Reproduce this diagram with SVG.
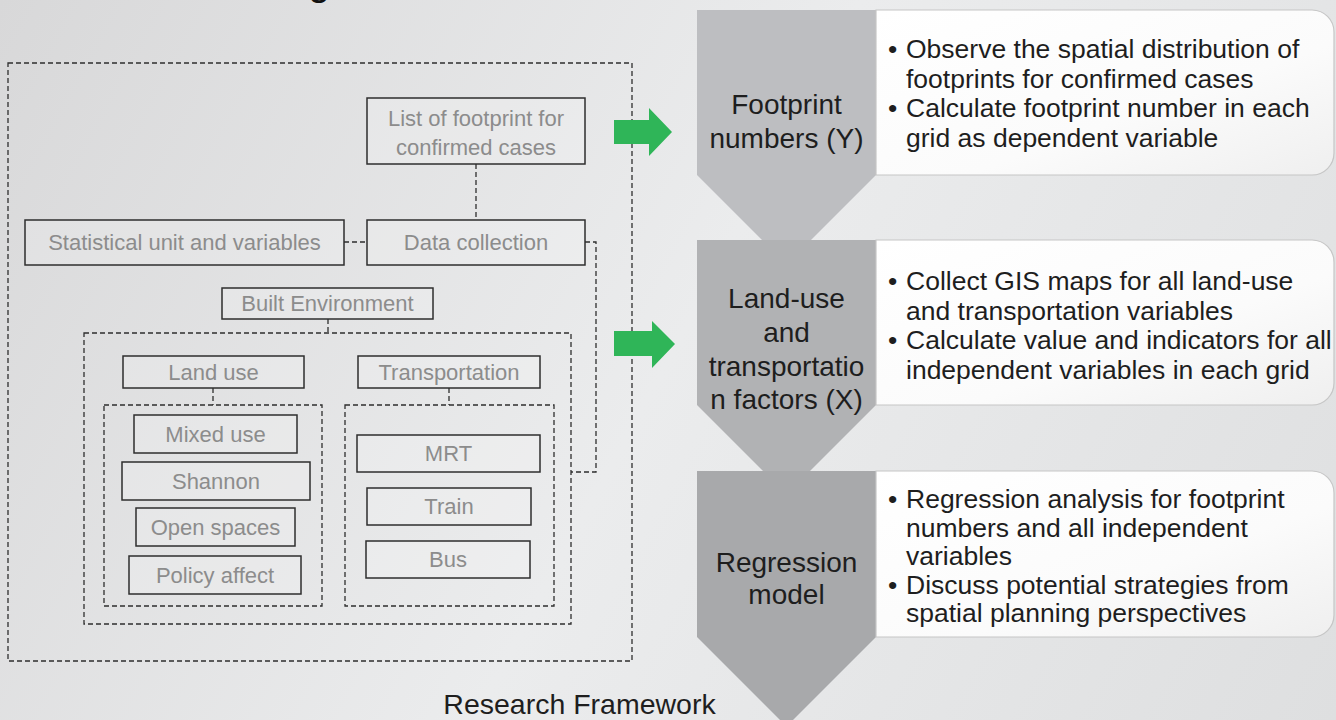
<svg xmlns="http://www.w3.org/2000/svg" width="1336" height="720" viewBox="0 0 1336 720">
<defs>
<linearGradient id="bg" x1="0" y1="0" x2="1336" y2="720" gradientUnits="userSpaceOnUse">
<stop offset="0" stop-color="#d8d8d9"/>
<stop offset="0.5" stop-color="#ebeced"/>
<stop offset="1" stop-color="#dedfe0"/>
</linearGradient>
<linearGradient id="wb" x1="0" y1="0" x2="1" y2="1">
<stop offset="0" stop-color="#ffffff"/>
<stop offset="0.6" stop-color="#fbfbfb"/>
<stop offset="1" stop-color="#efefef"/>
</linearGradient>
<style>
.box{fill:#ffffff;fill-opacity:0.18;stroke:#2e2e2e;stroke-width:1.5}
.dash{fill:none;stroke:#2e2e2e;stroke-width:1.3;stroke-dasharray:5 3}
.lt{font-family:"Liberation Sans",Arial,sans-serif;font-size:22px;fill:#8c8c8c;text-anchor:middle}
.lab{font-family:"Liberation Sans",Arial,sans-serif;font-size:28px;fill:#1e1e1e;text-anchor:middle}
.bt{font-family:"Liberation Sans",Arial,sans-serif;font-size:26.5px;fill:#1e1e1e}
.wbox{fill:url(#wb);stroke:#c6c6c6;stroke-width:1.2}
.arrow{fill:#2fb558}
</style>
</defs>
<rect x="0" y="0" width="1336" height="720" fill="url(#bg)"/>
<text x="308" y="-5" font-family="Liberation Sans,Arial,sans-serif" font-size="40" fill="#111">g</text>

<g id="containers">
<rect class="dash" x="8" y="63" width="624" height="598"/>
<rect class="dash" x="84" y="333" width="487" height="291"/>
<rect class="dash" x="104" y="405" width="218" height="201"/>
<rect class="dash" x="345" y="405" width="209" height="201"/>
</g>

<g id="connectors">
<path class="dash" d="M476,164 V220"/>
<path class="dash" d="M344,242 H367"/>
<path class="dash" d="M585,242 H596 V472 H571"/>
<path class="dash" d="M328,319 V333"/>
<path class="dash" d="M213,388 V405"/>
<path class="dash" d="M449,388 V405"/>
</g>

<g id="list">
<rect class="box" x="367" y="98" width="218" height="66"/>
<text class="lt" x="476" y="126">List of footprint for</text>
<text class="lt" x="476" y="155">confirmed cases</text>
</g>
<g id="stat">
<rect class="box" x="25" y="220" width="319" height="45"/>
<text class="lt" x="184.5" y="250">Statistical unit and variables</text>
</g>
<g id="data">
<rect class="box" x="367" y="220" width="218" height="45"/>
<text class="lt" x="476" y="250">Data collection</text>
</g>
<g id="built">
<rect class="box" x="222" y="288" width="211" height="31"/>
<text class="lt" x="327.5" y="311">Built Environment</text>
</g>
<g id="landuse">
<rect class="box" x="123" y="356" width="181" height="32"/>
<text class="lt" x="213.5" y="380">Land use</text>
</g>
<g id="transport">
<rect class="box" x="358" y="356" width="182" height="32"/>
<text class="lt" x="449" y="380">Transportation</text>
</g>
<g id="mixed">
<rect class="box" x="134" y="415" width="163" height="38"/>
<text class="lt" x="215.5" y="442">Mixed use</text>
</g>
<g id="shannon">
<rect class="box" x="122" y="462" width="188" height="38"/>
<text class="lt" x="216" y="489">Shannon</text>
</g>
<g id="open">
<rect class="box" x="136" y="508" width="159" height="38"/>
<text class="lt" x="215.5" y="535">Open spaces</text>
</g>
<g id="policy">
<rect class="box" x="129" y="556" width="172" height="38"/>
<text class="lt" x="215" y="583">Policy affect</text>
</g>
<g id="mrt">
<rect class="box" x="357" y="435" width="183" height="37"/>
<text class="lt" x="448.5" y="461">MRT</text>
</g>
<g id="train">
<rect class="box" x="367" y="488" width="164" height="37"/>
<text class="lt" x="449" y="514">Train</text>
</g>
<g id="bus">
<rect class="box" x="366" y="541" width="164" height="37"/>
<text class="lt" x="448" y="567">Bus</text>
</g>

<g id="arrows">
<polygon class="arrow" points="614,120 649,120 649,108 672,132 649,156 649,144 614,144"/>
<polygon class="arrow" points="614,331 652,331 652,321 675,344 652,368 652,356 614,356"/>
</g>

<g id="step1">
<path d="M697,10 H876 V175 L786.5,264.5 L697,175 Z" fill="#bdbec1"/>
<path class="wbox" d="M876,10 H1312 A22,22 0 0 1 1334,32 V153 A22,22 0 0 1 1312,175 H876 Z"/>
<text class="lab" x="786.5" y="114">Footprint</text>
<text class="lab" x="786.5" y="148">numbers (Y)</text>
<text class="bt" x="888" y="58">•</text><text class="bt" x="906" y="58">Observe the spatial distribution of</text>
<text class="bt" x="906" y="88">footprints for confirmed cases</text>
<text class="bt" x="888" y="117">•</text><text class="bt" x="906" y="117">Calculate footprint number in each</text>
<text class="bt" x="906" y="147">grid as dependent variable</text>
</g>

<g id="step2">
<path d="M697,240 H876 V405 L786.5,494.5 L697,405 Z" fill="#b1b2b4"/>
<path class="wbox" d="M876,240 H1312 A22,22 0 0 1 1334,262 V383 A22,22 0 0 1 1312,405 H876 Z"/>
<text class="lab" x="786.5" y="308">Land-use</text>
<text class="lab" x="786.5" y="342">and</text>
<text class="lab" x="786.5" y="376">transportatio</text>
<text class="lab" x="786.5" y="409">n factors (X)</text>
<text class="bt" x="888" y="290">•</text><text class="bt" x="906" y="290">Collect GIS maps for all land-use</text>
<text class="bt" x="906" y="320">and transportation variables</text>
<text class="bt" x="888" y="349">•</text><text class="bt" x="906" y="349">Calculate value and indicators for all</text>
<text class="bt" x="906" y="379">independent variables in each grid</text>
</g>

<g id="step3">
<path d="M697,471 H876 V637 L786.5,726.5 L697,637 Z" fill="#a8a9ab"/>
<path class="wbox" d="M876,471 H1312 A22,22 0 0 1 1334,493 V615 A22,22 0 0 1 1312,637 H876 Z"/>
<text class="lab" x="786.5" y="572">Regression</text>
<text class="lab" x="786.5" y="604">model</text>
<text class="bt" x="888" y="508">•</text><text class="bt" x="906" y="508">Regression analysis for footprint</text>
<text class="bt" x="906" y="537">numbers and all independent</text>
<text class="bt" x="906" y="565">variables</text>
<text class="bt" x="888" y="594">•</text><text class="bt" x="906" y="594">Discuss potential strategies from</text>
<text class="bt" x="906" y="622">spatial planning perspectives</text>
</g>

<g id="caption">
<text x="579.5" y="714" font-family="Liberation Sans,Arial,sans-serif" font-size="28.5" fill="#1e1e1e" text-anchor="middle">Research Framework</text>
</g>
</svg>
